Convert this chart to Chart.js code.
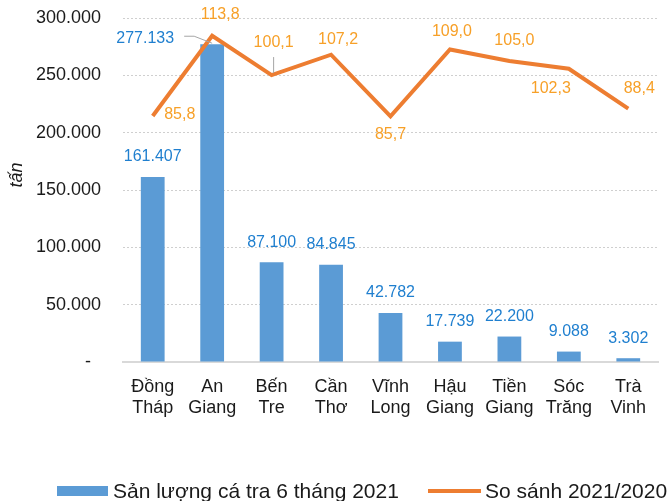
<!DOCTYPE html>
<html>
<head>
<meta charset="utf-8">
<script src="https://cdn.jsdelivr.net/npm/chart.js@4.4.1/dist/chart.umd.min.js"></script>
<style>
  html, body { margin: 0; padding: 0; background: #fff; }
  #wrap { width: 669px; height: 501px; }
</style>
</head>
<body>
<div id="wrap"><canvas id="chart" width="669" height="501"></canvas></div>
<script>
// Data
const provinces = [
    ["Đồng", "Tháp"], ["An", "Giang"], ["Bến", "Tre"], ["Cần", "Thơ"], ["Vĩnh", "Long"],
    ["Hậu", "Giang"], ["Tiền", "Giang"], ["Sóc", "Trăng"], ["Trà", "Vinh"],
];
const output2021 = [161407, 277133, 87100, 84845, 42782, 17739, 22200, 9088, 3302];
const ratio2021vs2020 = [85.8, 113.8, 100.1, 107.2, 85.7, 109.0, 105.0, 102.3, 88.4];
const yTicks = [0, 50000, 100000, 150000, 200000, 250000, 300000];

const seriesNames = ["Sản lượng cá tra 6 tháng 2021", "So sánh 2021/2020"];
const axisTitle = "tấn";

// label placement (offsets from the mark, px)
const barLabelOffsets = [[0, -20], [-67, -6], [0, -20], [0, -20], [0, -20], [0, -20], [0, -20], [0, -20], [0, -20]];
const lineLabelOffsets = [[27, -1], [8, -21], [2, -32], [7, -15], [0, 18], [2, -18], [5, -20], [-18, 20], [11, -20]];

const FONT = "'Liberation Sans', Arial, sans-serif";
const BAR_COLOR = "#5B9BD5";
const LINE_COLOR = "#ED7D31";
const BAR_LABEL_COLOR = "#1F7FCF";
const LINE_LABEL_COLOR = "#F7A028";
const TEXT_COLOR = "#1a1a1a";

function fmtThousands(v) {
    return String(Math.round(v)).replace(/\B(?=(\d{3})+(?!\d))/g, ".");
}
function fmtRatio(v) {
    return v.toFixed(1).replace(".", ",");
}

const labelsPlugin = {
    id: "valueLabels",
    afterDatasetsDraw(chart) {
        const ctx = chart.ctx;
        ctx.save();
        ctx.font = "16px " + FONT;
        ctx.textAlign = "center";
        ctx.textBaseline = "middle";

        // bar values
        const barMeta = chart.getDatasetMeta(0);
        barMeta.data.forEach((el, i) => {
            const [dx, dy] = barLabelOffsets[i];
            const lx = el.x + dx, ly = el.y + dy;
            ctx.fillStyle = BAR_LABEL_COLOR;
            ctx.fillText(fmtThousands(output2021[i]), lx, ly);
            if (i === 1) {
                // leader line
                ctx.strokeStyle = "#a6a6a6";
                ctx.lineWidth = 1;
                ctx.beginPath();
                ctx.moveTo(lx + 39, ly - 2);
                ctx.lineTo(lx + 49, ly - 2);
                ctx.lineTo(el.x, el.y - 1);
                ctx.stroke();
            }
        });

        // ratio values
        const lineMeta = chart.getDatasetMeta(1);
        lineMeta.data.forEach((el, i) => {
            const [dx, dy] = lineLabelOffsets[i];
            const lx = el.x + dx, ly = el.y + dy;
            ctx.fillStyle = LINE_LABEL_COLOR;
            ctx.fillText(fmtRatio(ratio2021vs2020[i]), lx, ly);
            if (i === 2) {
                ctx.strokeStyle = "#a6a6a6";
                ctx.lineWidth = 1;
                ctx.beginPath();
                ctx.moveTo(lx, ly + 14);
                ctx.lineTo(lx, el.y - 2);
                ctx.stroke();
            }
        });
        ctx.restore();
    },
    afterDraw(chart) {
        const ctx = chart.ctx;
        ctx.save();
        // y axis title
        ctx.font = "italic 18px " + FONT;
        ctx.fillStyle = TEXT_COLOR;
        ctx.textAlign = "center";
        ctx.textBaseline = "middle";
        ctx.translate(17, 175);
        ctx.rotate(-Math.PI / 2);
        ctx.fillText(axisTitle, 0, 0);
        ctx.restore();

        // legend
        ctx.save();
        ctx.font = "21px " + FONT;
        ctx.textAlign = "left";
        ctx.textBaseline = "alphabetic";
        ctx.fillStyle = chart.data.datasets[0].backgroundColor;
        ctx.fillRect(57, 486, 51, 10);
        ctx.fillStyle = TEXT_COLOR;
        ctx.fillText(chart.data.datasets[0].label, 113, 498);
        ctx.strokeStyle = chart.data.datasets[1].borderColor;
        ctx.lineWidth = 4;
        ctx.beginPath();
        ctx.moveTo(428, 491);
        ctx.lineTo(481, 491);
        ctx.stroke();
        ctx.fillText(chart.data.datasets[1].label, 485, 498);
        ctx.restore();
    },
};

new Chart(document.getElementById("chart"), {
    data: {
        labels: provinces,
        datasets: [
            {
                type: "bar",
                label: seriesNames[0],
                data: output2021,
                backgroundColor: BAR_COLOR,
                borderWidth: 0,
                categoryPercentage: 1,
                barPercentage: 0.4,
                yAxisID: "y",
                order: 2,
            },
            {
                type: "line",
                label: seriesNames[1],
                data: ratio2021vs2020,
                borderColor: LINE_COLOR,
                backgroundColor: LINE_COLOR,
                borderWidth: 4,
                pointRadius: 0,
                tension: 0,
                fill: false,
                yAxisID: "y1",
                order: 1,
            },
        ],
    },
    options: {
        responsive: false,
        animation: false,
        devicePixelRatio: 1,
        layout: { padding: { top: 18, right: 11, left: 0, bottom: 0 } },
        plugins: {
            legend: { display: false },
            tooltip: { enabled: false },
        },
        scales: {
            x: {
                offset: true,
                grid: { display: false },
                border: { display: true, color: "#d9d9d9", width: 2 },
                ticks: {
                    color: TEXT_COLOR,
                    font: { family: FONT, size: 18 },
                    padding: 6,
                    maxRotation: 0,
                    autoSkip: false,
                },
                afterFit(scale) { scale.height = 139; },
            },
            y: {
                min: 0,
                max: 300000,
                afterBuildTicks(scale) { scale.ticks = yTicks.map(v => ({ value: v })); },
                ticks: {
                    color: TEXT_COLOR,
                    font: { family: FONT, size: 18 },
                    padding: 22,
                    callback: v => (v === 0 ? "-  " : fmtThousands(v)),
                },
                grid: {
                    drawTicks: false,
                    lineWidth: 1,
                    color: c => (c.tick && c.tick.value === 0 ? "rgba(0,0,0,0)" : "#cfcfcf"),
                },
                border: { display: false, dash: [2, 2] },
                afterFit(scale) {
                    scale.width = 123;
                    scale.paddingTop = 0;
                    scale.paddingBottom = 0;
                },
            },
            y1: {
                display: false,
                position: "right",
                min: 0,
                max: 120,
            },
        },
    },
    plugins: [labelsPlugin],
});
</script>
</body>
</html>
